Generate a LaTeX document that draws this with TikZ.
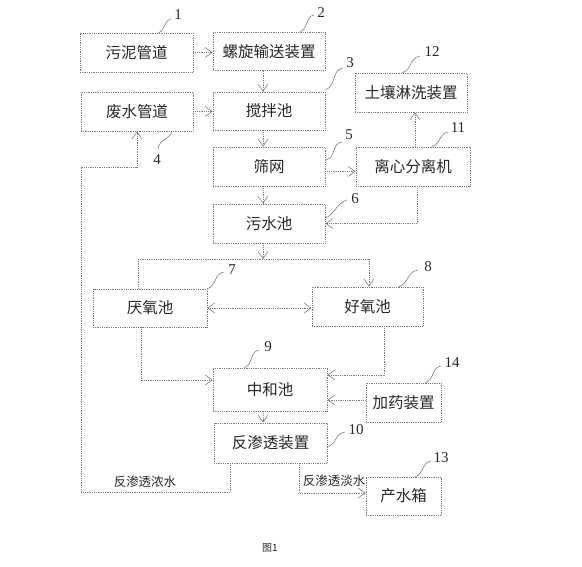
\documentclass[tikz,border=0pt]{standalone}
\usepackage{fontspec}
\setmainfont{Liberation Serif}
\newfontfamily\cjk{Noto Sans CJK SC}
\usetikzlibrary{arrows.meta,calc}
\definecolor{ln}{RGB}{125,125,125}
\definecolor{tx}{RGB}{40,40,40}
\tikzset{
  box/.style={draw=ln, densely dotted, line width=0.8pt, inner sep=0pt,
    font=\cjk\fontsize{15.5}{18}\selectfont, text=tx},
  line/.style={draw=ln, densely dotted, line width=0.8pt},
  arr/.style={line, -{Straight Barb[length=7pt,width=10pt,line width=0.6pt]}},
  arrtwo/.style={line, {Straight Barb[length=7pt,width=10pt,line width=0.6pt]}-{Straight Barb[length=7pt,width=10pt,line width=0.6pt]}},
  ldr/.style={draw=ln, line width=0.6pt},
  num/.style={font=\fontsize{15}{17}\selectfont, text=tx, inner sep=0pt},
  lbl/.style={font=\cjk\fontsize{12.5}{15}\selectfont, text=tx, inner sep=0pt}
}
\begin{document}
\begin{tikzpicture}[x=1pt,y=-1pt]
\useasboundingbox (0,0) rectangle (582,566);
% boxes
\node[box, minimum width=113, minimum height=39] (a1) at (136.5,52.5) {污泥管道};
\node[box, minimum width=112, minimum height=38] (a2) at (269,51.5) {螺旋输送装置};
\node[box, minimum width=112, minimum height=39] (a4) at (137,111.5) {废水管道};
\node[box, minimum width=112, minimum height=38] (a3) at (269,111) {搅拌池};
\node[box, minimum width=112, minimum height=39] (a5) at (269,166.5) {筛网};
\node[box, minimum width=112, minimum height=39] (a6) at (269,223.5) {污水池};
\node[box, minimum width=112, minimum height=39] (a12) at (411,92.5) {土壤淋洗装置};
\node[box, minimum width=114, minimum height=39] (a11) at (413,166.5) {离心分离机};
\node[box, minimum width=114, minimum height=38] (a7) at (150,308) {厌氧池};
\node[box, minimum width=111, minimum height=39] (a8) at (367.5,306.5) {好氧池};
\node[box, minimum width=114, minimum height=43] (a9) at (270,389.5) {中和池};
\node[box, minimum width=75, minimum height=39] (a14) at (403.5,402.5) {加药装置};
\node[box, minimum width=113, minimum height=40] (a10) at (270.5,443) {反渗透装置};
\node[box, minimum width=75, minimum height=38] (a13) at (403.5,496) {产水箱};
% connectors
\draw[arr] (a1.east) -- (a1.east -| a2.west);
\draw[arr] ([xshift=-6pt]a2.south) -- ([xshift=-6pt]a3.north);
\draw[arr] (a4.east) -- (a4.east -| a3.west);
\draw[arr] ([xshift=-6pt]a3.south) -- ([xshift=-6pt]a5.north);
\draw[arr] ([xshift=-6pt]a5.south) -- ([xshift=-6pt]a6.north);
\draw[arr] ([yshift=-5pt]a5.east) -- ([yshift=-5pt]a5.east -| a11.west);
\draw[arr] ([xshift=2pt]a11.north) -- ([xshift=2pt]a11.north |- a12.south);
\draw[arr] ([xshift=4pt]a11.south) |- (a6.east);
\coordinate (sp) at (263,259);
\coordinate (sl) at (138,259);
\coordinate (sr) at (369,259);
\draw[arr] ([xshift=-6pt]a6.south) -- (sp);
\draw[line] (sl) -- (sr);
\draw[line] (sl) -- (sl |- a7.north);
\draw[arr] (sr) -- (sr |- a8.north);
\draw[arrtwo] (a7.east) -- (a7.east -| a8.west);
\draw[arr] ([xshift=-9pt]a7.south) |- ([yshift=9.5pt]a9.west);
\draw[arr] ([xshift=16.5pt]a8.south) |- ([yshift=14.5pt]a9.east);
\draw[arr] ([yshift=2.5pt]a14.west) -- ([yshift=2.5pt]a14.west -| a9.east);
\draw[arr] ([xshift=-7pt]a9.south) -- ([xshift=-7pt]a9.south |- a10.north);
\coordinate (b1) at (230,492);
\coordinate (b2) at (81,167);
\draw[arr] (a10.south -| b1) -- (b1) -| (b2) -| (a4.south);
\coordinate (b3) at (299,493);
\draw[arr] (a10.south -| b3) -- (b3) -- (b3 -| a13.west);
\node[lbl] (t1) at (145,482) {反渗透浓水};
\node[lbl] (t2) at (334,481) {反渗透淡水};
% leaders and numbers
\draw[ldr] (158,33) .. controls (166,30) and (163,21) .. (171,19);
\node[num] (n1) at (178,15) {1};
\draw[ldr] (300,32) .. controls (309,28) and (305,17) .. (314,15);
\node[num] (n2) at (321,13) {2};
\draw[ldr] (325,90) .. controls (337,86) and (331,70) .. (343,68);
\node[num] (n3) at (350,63) {3};
\draw[ldr] (402,73) .. controls (413,69) and (409,58) .. (420,56);
\node[num] (n12) at (432,52) {12};
\draw[ldr] (326,160) .. controls (337,156) and (331,144) .. (342,142);
\node[num] (n5) at (349,135) {5};
\draw[ldr] (432,147) .. controls (442,143) and (438,134) .. (448,132);
\node[num] (n11) at (458,128) {11};
\draw[ldr] (326,218) .. controls (336,212) and (337,203) .. (347,200);
\node[num] (n6) at (355,199) {6};
\draw[ldr] (172,131) .. controls (170,140) and (159,139) .. (158,149);
\node[num] (n4) at (157,160) {4};
\draw[ldr] (207,289) .. controls (218,285) and (213,274) .. (224,272);
\node[num] (n7) at (232,270) {7};
\draw[ldr] (398,287) .. controls (410,283) and (406,272) .. (418,270);
\node[num] (n8) at (428,267) {8};
\draw[ldr] (244,368) .. controls (254,364) and (249,352) .. (259,350);
\node[num] (n9) at (268,347) {9};
\draw[ldr] (425,383) .. controls (435,379) and (431,368) .. (441,366);
\node[num] (n14) at (452,363) {14};
\draw[ldr] (327,447) .. controls (338,443) and (334,434) .. (345,432);
\node[num] (n10) at (356,430) {10};
\draw[ldr] (415,477) .. controls (425,473) and (421,463) .. (431,461);
\node[num] (n13) at (441,458) {13};
\node[font=\cjk\fontsize{10}{12}\selectfont, text=tx] (fig) at (270,548) {图1};
\end{tikzpicture}
\end{document}
